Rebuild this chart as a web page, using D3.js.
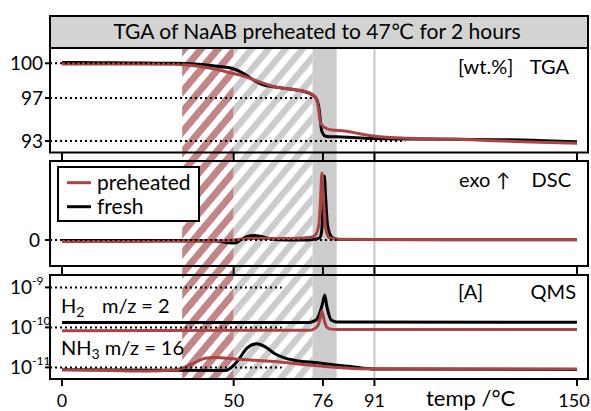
<!DOCTYPE html>
<html><head><meta charset="utf-8">
<script src="https://cdn.jsdelivr.net/npm/d3@7"></script>
<style>
body{margin:0;background:#fff}
svg{display:block}
text{font-family:Lato,"DejaVu Sans",sans-serif;fill:#000}
</style>
</head><body>
<svg id="c" width="591" height="411"></svg>
<script>
// ---------- DATA ----------
const title = "TGA of NaAB preheated to 47\u2103 for 2 hours";
const xTicks = [0, 50, 76, 91, 150];
const preheatZone = [35, 50];   // red hatched
const hatchZone = [50, 73];     // grey hatched
const peakZone = [73, 80];      // grey solid
const markerT = 91;             // grey vertical line

// TGA [wt.%]
const tgaTicks = [100, 97, 93];
const tgaGridEnd = [35, 73, 100];
const tgaFresh = [[0,100.08],[10,100.05],[20,100.03],[30,100.0],[33,100.0],[38.7,99.94],[44.6,99.77],[49.4,99.57],[52.3,99.22],[55.3,98.64],[58.2,98.18],[62,97.95],[66.9,97.75],[71.7,97.45],[73.7,97.1],[74.7,96.35],[75.2,95.1],[75.6,94.0],[76.6,93.47],[78,93.4],[81.5,93.38],[90,93.23],[100,93.19],[115,93.16],[134,93.1],[150,92.93]];
const tgaPreheated = [[0,99.94],[20,99.93],[32.9,99.91],[38.7,99.79],[44.6,99.5],[49.4,99.15],[52.3,98.95],[57.2,98.43],[62,97.96],[66.9,97.75],[71.7,97.49],[73.7,97.1],[74.7,96.04],[75.2,94.8],[76.1,94.33],[78.5,94.02],[82.4,93.93],[86,93.72],[90.6,93.47],[100.4,93.25],[115,93.16],[134,92.93],[150,92.78]];

// DSC (arb. units, exo up)
const dscTicks = [0];
const dscGridEnd = [80];
const dscFresh = [[0,-0.05],[30,-0.05],[45,-0.1],[48,-0.25],[50.5,-0.3],[52,0],[54,0.35],[56,0.45],[58,0.35],[61,0.1],[65,0],[70,0],[73,0.05],[75,0.2],[75.6,0.8],[76.0,3.0],[76.4,6.4],[76.8,4.2],[77.3,1.6],[78,0.6],[79,0.2],[81,0.05],[150,0.03]];
const dscPreheated = [[0,-0.15],[20,-0.15],[35,-0.12],[45,-0.1],[50,0],[55,0.15],[60,0.15],[65,0.15],[70,0.2],[73,0.3],[74,0.6],[74.8,1.5],[75.3,4.0],[75.7,6.7],[76.1,4.5],[76.6,1.8],[77.2,0.6],[78,0.2],[80,0.08],[100,0.05],[150,0.05]];

// QMS [A]
const qmsTicks = [-9, -10, -11];
const qmsGridEnd = [64, 64, 64];
const h2Fresh = [[0,1.32e-10],[72,1.33e-10],[73,1.4e-10],[74.2,1.6e-10],[75.2,2.5e-10],[75.9,4e-10],[76.5,6.5e-10],[77.1,3.5e-10],[77.8,2e-10],[78.5,1.5e-10],[80,1.36e-10],[150,1.35e-10]];
const h2Preheated = [[0,8.3e-11],[72,8.5e-11],[73,8.8e-11],[74.5,1.1e-10],[75.2,1.7e-10],[75.7,2.5e-10],[76.3,1.6e-10],[77,1.05e-10],[78,9.2e-11],[80,8.8e-11],[150,8.9e-11]];
const nh3Fresh = [[0,8.7e-12],[47.5,8.4e-12],[49.4,1.01e-11],[51.4,1.55e-11],[53.8,3.0e-11],[56.7,3.9e-11],[59.1,3.3e-11],[62,2.2e-11],[65,1.7e-11],[68.8,1.45e-11],[73.7,1.32e-11],[79.5,1.15e-11],[84,1.05e-11],[91,9.1e-12],[150,8.9e-12]];
const nh3Preheated = [[0,9.0e-12],[25,8.1e-12],[33,8.7e-12],[35.8,1.01e-11],[38.7,1.32e-11],[41.7,1.7e-11],[44.6,1.76e-11],[50.4,1.62e-11],[57.2,1.48e-11],[64,1.35e-11],[71.7,1.15e-11],[81.5,9.8e-12],[86,9.3e-12],[150,9.1e-12]];

const seriesNames = ["preheated", "fresh"];

// ---------- STYLE / LAYOUT ----------
const RED = "#a94442", BLACK = "#000";
const left = 50, right = 588;
const panels = [{top:48,bottom:152.5},{top:161,bottom:266},{top:275,bottom:379}];
const svg = d3.select("#c");
svg.append("rect").attr("width",591).attr("height",411).attr("fill","#fff");

const x = d3.scaleLinear().domain([0,150]).range([62,577]);
const y1 = d3.scaleLinear().domain([93,97,100]).range([141,98,63.3]);
const y2 = d3.scaleLinear().domain([-2.6,7.9]).range([266,161]);
const y3 = d3.scaleLog().domain([Math.pow(10,-11.29), Math.pow(10,-8.69)]).range([379,275]);

const defs = svg.append("defs");
function hatch(id, color, w){
  const p = defs.append("pattern").attr("id",id).attr("patternUnits","userSpaceOnUse")
    .attr("width",13).attr("height",13).attr("patternTransform","rotate(40)");
  p.append("rect").attr("width",13).attr("height",13).attr("fill","#fff");
  p.append("rect").attr("width",w).attr("height",13).attr("fill",color);
}
hatch("hr","#c28686",7);
hatch("hg","#cccccc",6.5);
panels.forEach((p,i)=>{
  defs.append("clipPath").attr("id","cp"+i).append("rect")
    .attr("x",left).attr("y",p.top).attr("width",right-left).attr("height",p.bottom-p.top);
});

// shaded zones spanning all panels
const zTop = panels[0].top, zBot = panels[2].bottom;
svg.append("rect").attr("x",x(preheatZone[0])).attr("width",x(preheatZone[1])-x(preheatZone[0]))
  .attr("y",zTop).attr("height",zBot-zTop).attr("fill","url(#hr)");
svg.append("rect").attr("x",x(hatchZone[0])).attr("width",x(hatchZone[1])-x(hatchZone[0]))
  .attr("y",zTop).attr("height",zBot-zTop).attr("fill","url(#hg)");
svg.append("rect").attr("x",x(peakZone[0])).attr("width",x(peakZone[1])-x(peakZone[0]))
  .attr("y",zTop).attr("height",zBot-zTop).attr("fill","#cccccc");
svg.append("line").attr("x1",x(markerT)).attr("x2",x(markerT)).attr("y1",zTop).attr("y2",zBot)
  .attr("stroke","#c8c8c8").attr("stroke-width",2);

// x ticks between panels and below
for (let i=0;i<2;i++){
  svg.selectAll(null).data(xTicks).enter().append("line")
    .attr("x1",d=>x(d)).attr("x2",d=>x(d)).attr("y1",panels[i].bottom).attr("y2",panels[i+1].top)
    .attr("stroke","#000").attr("stroke-width",2);
}
svg.selectAll(null).data(xTicks).enter().append("line")
  .attr("x1",d=>x(d)).attr("x2",d=>x(d)).attr("y1",panels[2].bottom).attr("y2",panels[2].bottom+7)
  .attr("stroke","#000").attr("stroke-width",2);
svg.selectAll(null).data(xTicks).enter().append("text")
  .attr("x",d=>Math.min(x(d), 574)).attr("y",407).attr("text-anchor","middle").attr("font-size",18).text(d=>d);
svg.append("text").attr("x",426).attr("y",406).attr("font-size",22).text("temp /\u00B0C");

function grid(g, ticks, ends, ys){
  g.selectAll(null).data(ticks).enter().append("line")
    .attr("x1",left).attr("x2",(d,i)=>x(ends[i])).attr("y1",d=>ys(d)).attr("y2",d=>ys(d))
    .attr("stroke","#000").attr("stroke-width",2).attr("stroke-dasharray","2,3");
  g.selectAll(null).data(ticks).enter().append("line")
    .attr("x1",left-5).attr("x2",left).attr("y1",d=>ys(d)).attr("y2",d=>ys(d))
    .attr("stroke","#000").attr("stroke-width",2);
}
function curve(g, data, ys, color){
  g.append("path").datum(data).attr("fill","none").attr("stroke",color).attr("stroke-width",3)
    .attr("stroke-linejoin","round")
    .attr("d", d3.line().x(d=>x(d[0])).y(d=>ys(d[1])).curve(d3.curveMonotoneX));
}

// Panel 1 TGA
const g1 = svg.append("g").attr("clip-path","url(#cp0)");
grid(svg, tgaTicks, tgaGridEnd, y1);
curve(g1, tgaFresh, y1, BLACK);
curve(g1, tgaPreheated, y1, RED);
svg.selectAll(null).data(tgaTicks).enter().append("text")
  .attr("x",43).attr("y",d=>y1(d)+6.5).attr("text-anchor","end").attr("font-size",19).text(d=>d);
svg.append("text").attr("x",458).attr("y",74).attr("font-size",20).text("[wt.%]");
svg.append("text").attr("x",569).attr("y",74).attr("text-anchor","end").attr("font-size",20).text("TGA");

// Panel 2 DSC
const g2 = svg.append("g").attr("clip-path","url(#cp1)");
grid(svg, dscTicks, dscGridEnd, y2);
curve(g2, dscFresh, y2, BLACK);
curve(g2, dscPreheated, y2, RED);
svg.selectAll(null).data(dscTicks).enter().append("text")
  .attr("x",40).attr("y",d=>y2(d)+6.5).attr("text-anchor","end").attr("font-size",19).text(d=>d);
svg.append("text").attr("x",459).attr("y",187).attr("font-size",20).text("exo");
svg.append("text").attr("x",496).attr("y",187).attr("font-size",19).text("\u2191");
svg.append("text").attr("x",571).attr("y",187).attr("text-anchor","end").attr("font-size",20).text("DSC");

// Panel 3 QMS
const g3 = svg.append("g").attr("clip-path","url(#cp2)");
grid(svg, qmsTicks.map(e=>Math.pow(10,e)), qmsGridEnd, y3);
curve(g3, h2Fresh, y3, BLACK);
curve(g3, h2Preheated, y3, RED);
curve(g3, nh3Fresh, y3, BLACK);
curve(g3, nh3Preheated, y3, RED);
qmsTicks.forEach(e=>{
  const yy = y3(Math.pow(10,e));
  svg.append("text").attr("x",32).attr("y",yy+6.5).attr("text-anchor","end").attr("font-size",19).text("10");
  svg.append("text").attr("x",32).attr("y",yy-2).attr("font-size",12).text("-"+(-e));
});
svg.append("text").attr("x",458).attr("y",299).attr("font-size",20).text("[A]");
svg.append("text").attr("x",576).attr("y",299).attr("text-anchor","end").attr("font-size",20).text("QMS");
const t1 = svg.append("text").attr("x",61).attr("y",312.7).attr("font-size",20);
t1.append("tspan").text("H");
t1.append("tspan").attr("font-size",14).attr("dy",4).text("2");
svg.append("text").attr("x",102).attr("y",312.7).attr("font-size",20).text("m/z = 2");
const t2 = svg.append("text").attr("x",61).attr("y",355).attr("font-size",20);
t2.append("tspan").text("NH");
t2.append("tspan").attr("font-size",14).attr("dy",4).text("3");
t2.append("tspan").attr("dy",-4).text(" m/z = 16");

// panel frames
panels.forEach(p=>{
  svg.append("rect").attr("x",left).attr("y",p.top).attr("width",right-left).attr("height",p.bottom-p.top)
    .attr("fill","none").attr("stroke","#000").attr("stroke-width",2);
});

// title box
svg.append("rect").attr("x",left).attr("y",16).attr("width",right-left).attr("height",32)
  .attr("fill","#d3d3d3").attr("stroke","#000").attr("stroke-width",2);
svg.append("text").attr("x",(left+right)/2-2).attr("y",39).attr("text-anchor","middle").attr("font-size",21).text(title);

// legend
const lg = svg.append("g");
lg.append("rect").attr("x",58).attr("y",167).attr("width",141).attr("height",54)
  .attr("fill","#fff").attr("stroke","#000").attr("stroke-width",2);
[RED, BLACK].forEach((c,i)=>{
  const yy = 182.7 + i*24;
  lg.append("line").attr("x1",67).attr("x2",91).attr("y1",yy).attr("y2",yy).attr("stroke",c).attr("stroke-width",3);
  lg.append("text").attr("x",97).attr("y",yy+7).attr("font-size",21).text(seriesNames[i]);
});
</script>
</body></html>
